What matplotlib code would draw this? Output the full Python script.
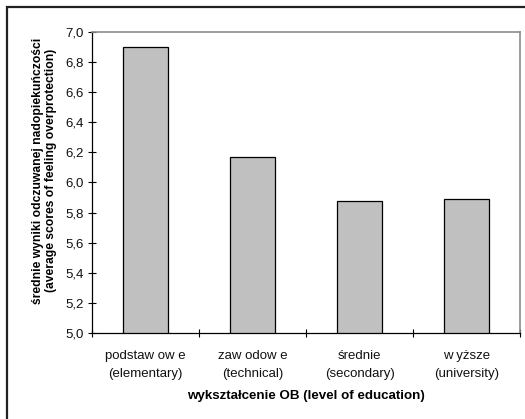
import matplotlib
matplotlib.use("Agg")
import matplotlib.pyplot as plt
from matplotlib.patches import Rectangle

plt.rcParams['font.family'] = ['Liberation Sans', 'DejaVu Sans']

categories = ["podstaw ow e\n(elementary)", "zaw odow e\n(technical)",
              "średnie\n(secondary)", "w yższe\n(university)"]
values = [6.90, 6.17, 5.88, 5.89]
yticks = [5.0, 5.2, 5.4, 5.6, 5.8, 6.0, 6.2, 6.4, 6.6, 6.8, 7.0]
ytick_labels = [f"{v:.1f}".replace(".", ",") for v in yticks]

W, H = 525, 419
fig = plt.figure(figsize=(W / 100, H / 100), dpi=100)
fig.patch.set_facecolor("white")

# outer chart frame (right and bottom edges run off the canvas)
fig.patches.append(Rectangle((7 / W, -0.05), 1.2, 1 - 7 / H + 0.05,
                             transform=fig.transFigure, fill=False,
                             edgecolor="#222222", linewidth=1.6))

ax = fig.add_axes([92 / W, 1 - 333 / H, (520 - 92) / W, (333 - 32) / H])
x = range(len(categories))
ax.bar(x, values, width=0.42, bottom=0, color="#c0c0c0",
       edgecolor="#000000", linewidth=0.9)
ax.set_xlim(-0.5, len(categories) - 0.5)
ax.set_ylim(5.0, 7.0)
ax.set_yticks(yticks)
ax.set_yticklabels(ytick_labels, fontsize=9.5, color="#111111")
ax.set_xticks([i - 0.5 for i in range(len(categories) + 1)], minor=False)
ax.set_xticklabels([])
ax.set_xticks(list(x), minor=True)
ax.set_xticklabels(categories, minor=True, fontsize=9.5, linespacing=1.7,
                   color="#111111")
ax.tick_params(axis="x", which="minor", length=0, pad=12)
ax.tick_params(axis="x", which="major", direction="inout", length=6, width=0.8)
ax.tick_params(axis="y", direction="inout", length=6, width=0.8, pad=3)

for side in ("top", "right"):
    ax.spines[side].set_color("#8c8c8c")
    ax.spines[side].set_linewidth(1.2)
for side in ("left", "bottom"):
    ax.spines[side].set_color("#000000")
    ax.spines[side].set_linewidth(0.9)

ax.set_ylabel("średnie wyniki odczuwanej nadopiekuńczości\n(average scores of feeling overprotection)",
              fontsize=8.7, fontweight="bold", linespacing=1.15)
ax.yaxis.set_label_coords(-0.082, 0.54)
ax.set_xlabel("wykształcenie OB (level of education)", fontsize=9.6,
              fontweight="bold")
ax.xaxis.set_label_coords(0.5, -(396 - 333) / 301, transform=ax.transAxes)
ax.xaxis.label.set_va("center")

fig.savefig("out.png", dpi=100)
